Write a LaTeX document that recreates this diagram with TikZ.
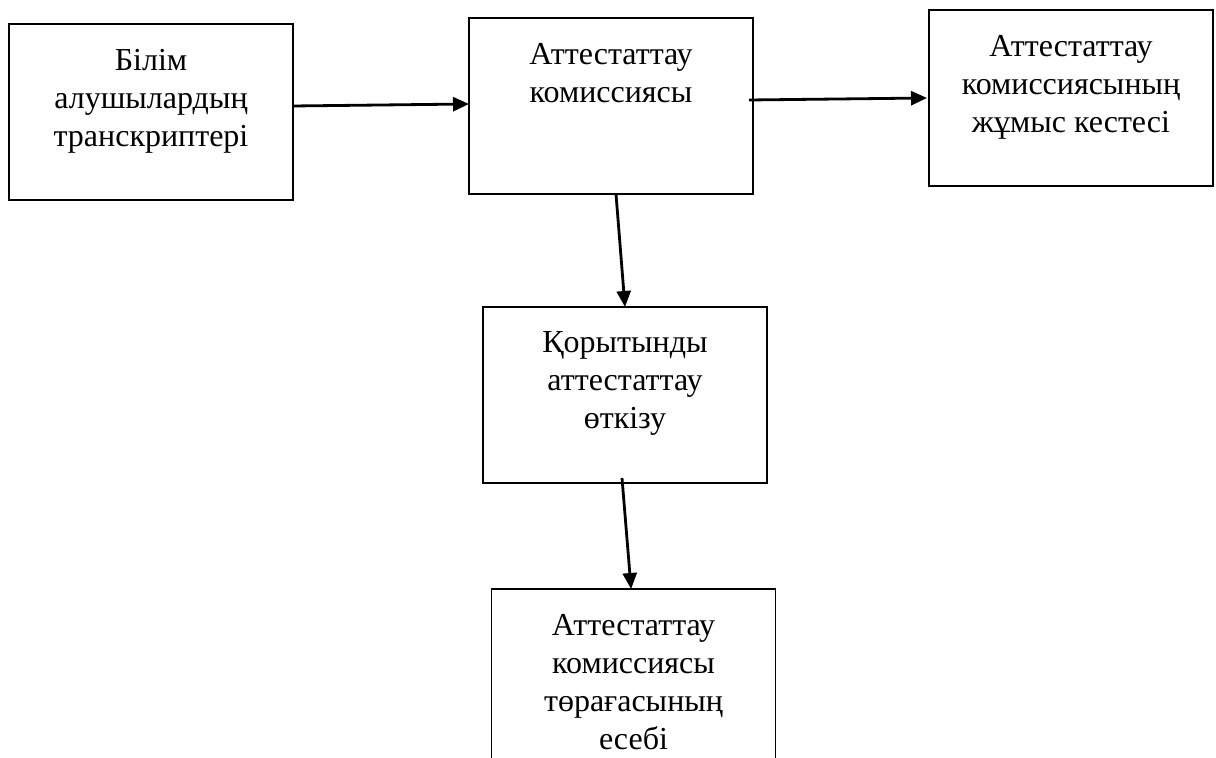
\documentclass[tikz,border=0pt]{standalone}
\usepackage{fontspec}
\setmainfont{Liberation Serif}
\usetikzlibrary{arrows.meta,positioning}
\newcommand{\stagetext}[1]{\parbox[t][63pt][t]{142pt}{\centering #1}}
\tikzset{%
  stage/.style={rectangle,draw=black,line width=0.7pt,minimum width=142pt,minimum height=88pt,inner xsep=0pt,inner ysep=12.5pt,outer sep=0pt,font=\fontsize{16}{19}\selectfont},
  flow/.style={-{Triangle[length=8pt,width=7pt]},line width=1.4pt}%
}
\begin{document}
\begin{tikzpicture}
      \clip (0,0) rectangle (608pt,-379pt);
      \node (transcripts) [stage, anchor=north west] at (4.5pt,-12pt) {\stagetext{Білім\\алушылардың\\транскриптері}};
      \node (commission) [stage, right=88pt of transcripts, yshift=3pt] {\stagetext{Аттестаттау\\комиссиясы}};
      \node (schedule) [stage, right=88pt of commission, yshift=4pt] {\stagetext{Аттестаттау\\комиссиясының\\жұмыс кестесі}};
      \node (final) [stage, below=56.5pt of commission, xshift=7pt] {\stagetext{Қорытынды\\аттестаттау\\өткізу}};
      \node (report) [stage, below=53pt of final, xshift=4.25pt] {\stagetext{Аттестаттау\\комиссиясы\\төрағасының\\есебі}};

      \draw[flow] ([yshift=3pt]transcripts.east) -- ([yshift=1pt]commission.west);
      \draw[flow] ([xshift=-2pt,yshift=3pt]commission.east) -- ([xshift=-1pt]schedule.west);
      \draw[flow] ([xshift=2.5pt]commission.south) -- (final.north);
      \draw[flow] ([xshift=-1.5pt,yshift=2.5pt]final.south) -- ([xshift=-1.2pt]report.north);
\end{tikzpicture}
\end{document}
